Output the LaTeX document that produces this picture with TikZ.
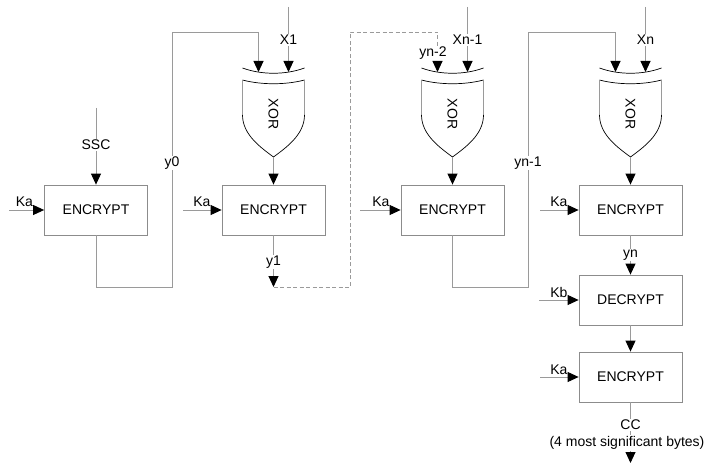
\documentclass[tikz,border=0pt]{standalone}
\usepackage{fontspec}
\setmainfont{Liberation Sans}
\usetikzlibrary{arrows.meta}
\definecolor{ln}{HTML}{9A9A9A}
\definecolor{bx}{HTML}{8C8C8C}
\newcommand\dfont{\fontsize{14}{16}\selectfont}
\begin{document}
\begin{tikzpicture}[x=1pt,y=-1pt,
  box/.style={draw=bx, line width=0.8pt, minimum width=103pt, minimum height=50pt, inner sep=0pt, font=\dfont},
  wire/.style={draw=ln, line width=0.9pt},
  arr/.style={-{Triangle[length=11pt,width=10pt,color=black]}},
  lbl/.style={fill=white, inner sep=1pt, font=\dfont},
  kl/.style={inner sep=0pt, font=\dfont, anchor=base east},
  xorg/.pic={
    \draw[black, line width=0.7pt] (-31,68) .. controls (-12,75) and (12,75) .. (31,68);
    \draw[black, line width=0.7pt] (-31,80) .. controls (-12,85) and (12,85) .. (31,80);
    \draw[ln, line width=0.9pt] (-31,80) -- (-31,115) (31,80) -- (31,115);
    \draw[black, line width=0.7pt] (-31,115) .. controls (-31,135) and (-12,148) .. (0,157) .. controls (12,148) and (31,135) .. (31,115);
    \node[rotate=-90, font=\dfont, inner sep=0pt] at (0,114) {XOR};
  }]
\useasboundingbox (0,0) rectangle (713,468);

% gates
\pic at (273.5,0) {xorg};
\pic at (452.5,0) {xorg};
\pic at (630.5,0) {xorg};

% boxes
\node[box] (e1) at (96,210) {ENCRYPT};
\node[box] (e2) at (273.5,210) {ENCRYPT};
\node[box] (e3) at (452.5,210) {ENCRYPT};
\node[box] (e4) at (630.5,210) {ENCRYPT};
\node[box] (d5) at (630.5,300) {DECRYPT};
\node[box] (e6) at (630.5,377) {ENCRYPT};

% coordinates
\coordinate (o1) at (273.5,157);
\coordinate (o2) at (452.5,157);
\coordinate (o3) at (630.5,157);
\coordinate (i1a) at (258.5,72);
\coordinate (i1b) at (288.5,72);
\coordinate (i2a) at (437.5,72);
\coordinate (i2b) at (467.5,72);
\coordinate (i3a) at (615.5,72);
\coordinate (i3b) at (645.5,72);
\coordinate (t1) at (288.5,7);
\coordinate (t2) at (467.5,7);
\coordinate (t3) at (645.5,7);
\coordinate (s0) at (96,108);
\coordinate (y1e) at (273.5,287);
\coordinate (out) at (630.5,463);
\coordinate (k1) at (9,210);
\coordinate (k2) at (183,210);
\coordinate (k3) at (360,210);
\coordinate (k4) at (540,210);
\coordinate (k5) at (539,300);
\coordinate (k6) at (540,377);

% gate outputs
\draw[wire,arr] (o1) -- (e2.north);
\draw[wire,arr] (o2) -- (e3.north);
\draw[wire,arr] (o3) -- (e4.north);

% key inputs
\draw[wire,arr] (k1) -- (e1.west);
\draw[wire,arr] (k2) -- (e2.west);
\draw[wire,arr] (k3) -- (e3.west);
\draw[wire,arr] (k4) -- (e4.west);
\draw[wire,arr] (k5) -- (d5.west);
\draw[wire,arr] (k6) -- (e6.west);

% data inputs
\draw[wire,arr] (s0) -- (e1.north);
\draw[wire,arr] (t1) -- (i1b);
\draw[wire,arr] (t2) -- (i2b);
\draw[wire,arr] (t3) -- (i3b);

% chaining
\draw[wire,arr] (e1.south) -- (96,287) -- (172,287) -- (172,32) -- (258.5,32) -- (i1a);
\draw[wire,arr] (e2.south) -- (y1e);
\draw[wire,dashed,dash pattern=on 4pt off 2.5pt,arr] (y1e) -- (350,287) -- (350,32) -- (437.5,32) -- (i2a);
\draw[wire,arr] (e3.south) -- (452.5,287) -- (528,287) -- (528,32) -- (615.5,32) -- (i3a);
\draw[wire,arr] (e4.south) -- (d5.north);
\draw[wire,arr] (d5.south) -- (e6.north);
\draw[wire,arr] (e6.south) -- (out);

% labels
\node[lbl] (lssc) at (96,145) {SSC};
\node[lbl] (ly0) at (172,163) {y0};
\node[lbl] (lx1) at (288.5,40) {X1};
\node[lbl] (ly1) at (273.5,262) {y1};
\node[lbl] (lyn2) at (433,53) {yn-2};
\node[lbl] (lxn1) at (467.5,40) {Xn-1};
\node[lbl] (lyn1) at (528,163) {yn-1};
\node[lbl] (lxn) at (645.5,40) {Xn};
\node[lbl] (lyn) at (630.5,255) {yn};
\node[lbl] (lcc) at (630.5,425) {CC};
\node[lbl] (lbytes) at (627,443) {(4 most significant bytes)};

\node[kl] (ka1) at ([xshift=-11pt,yshift=3pt]e1.west) {Ka};
\node[kl] (ka2) at ([xshift=-11pt,yshift=3pt]e2.west) {Ka};
\node[kl] (ka3) at ([xshift=-11pt,yshift=3pt]e3.west) {Ka};
\node[kl] (ka4) at ([xshift=-11pt,yshift=3pt]e4.west) {Ka};
\node[kl] (kb5) at ([xshift=-11pt,yshift=3pt]d5.west) {Kb};
\node[kl] (ka6) at ([xshift=-11pt,yshift=3pt]e6.west) {Ka};
\end{tikzpicture}
\end{document}
